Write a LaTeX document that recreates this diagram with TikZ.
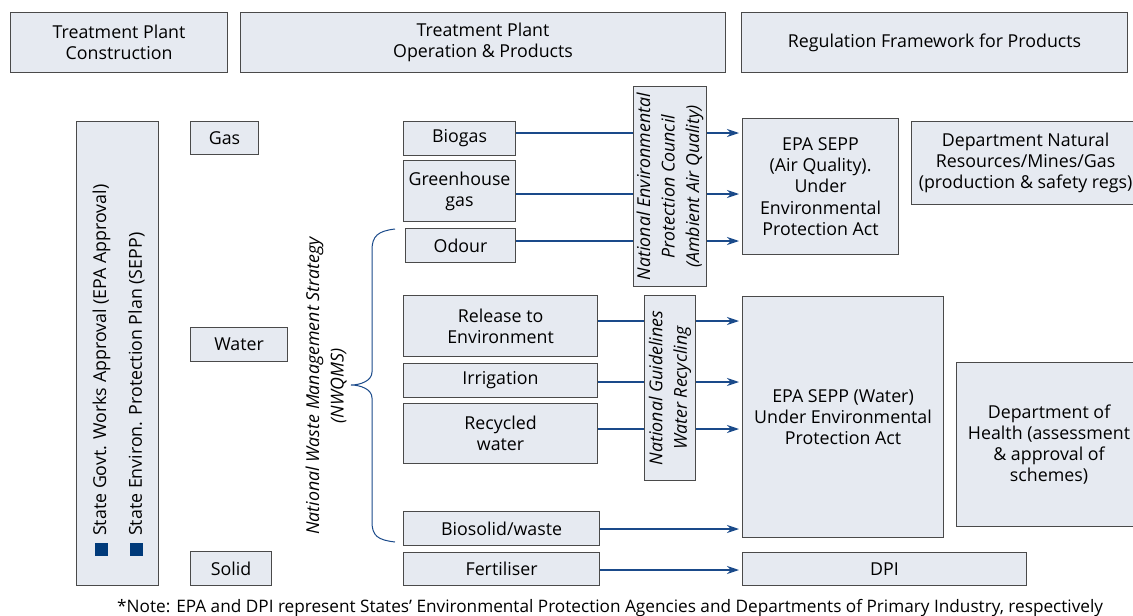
\documentclass[tikz,border=0pt]{standalone}
\usepackage{fontspec}
\setmainfont{Open Sans}
\usetikzlibrary{arrows.meta,calc}
\definecolor{boxfill}{HTML}{E6EAF1}
\definecolor{boxline}{HTML}{4A4A4A}
\definecolor{arrblue}{HTML}{1A4A8A}
\definecolor{sqblue}{HTML}{003A7A}
\newcommand\fsz{\fontsize{17.8}{21.3}\selectfont}
\newcommand\bx[6]{%
  \pgfmathsetmacro\bxw{#4-#2}\pgfmathsetmacro\bxh{#5-#3}%
  \node[box,minimum width=\bxw pt,minimum height=\bxh pt] (#1) at (#2,#3) {#6};}
\begin{document}
\begin{tikzpicture}[x=1pt,y=-1pt,
  box/.style={draw=boxline,fill=boxfill,line width=1.1pt,anchor=north west,align=center,inner sep=2pt,
    font=\fsz},
  rtext/.style={rotate=90,align=center,inner sep=0pt,font=\fontsize{17.8}{24.5}\selectfont\itshape},
  conn/.style={draw=arrblue,line width=1.2pt},
  arr/.style={conn,-{Stealth[length=12pt,width=8pt]},shorten >=3pt}]
\useasboundingbox (0,0) rectangle (1133,616);
% headers
\bx{h1}{10}{12}{227}{72}{Treatment Plant\\Construction}
\bx{h2}{240}{12}{725}{72}{Treatment Plant\\Operation \& Products}
\bx{h3}{741}{12}{1127}{72}{Regulation Framework for Products}
% left column
\bx{left}{76}{121}{158}{585}{}
\fill[sqblue] (95,543) rectangle (108,556);
\fill[sqblue] (130,543) rectangle (143,556);
\node[rtext,font=\fsz,anchor=west] (l1) at (101.5,536) {State Govt. Works Approval (EPA Approval)};
\node[rtext,font=\fsz,anchor=west] (l2) at (136.5,536) {State Environ. Protection Plan (SEPP)};
\bx{gas}{190}{121}{258}{154}{Gas}
\bx{water}{190}{327}{287}{361}{Water}
\bx{solid}{190}{551}{271}{585}{Solid}
% NWQMS
\node[rtext] (nwqms) at (326,386) {National Waste Management Strategy\\(NWQMS)};
\draw[conn,line width=1pt] (395,229) .. controls (378,231) and (372,236) .. (372,250) -- (372,372)
  .. controls (372,381) and (360,385) .. (351,385)
  .. controls (360,385) and (372,389) .. (372,398) -- (372,522)
  .. controls (372,536) and (378,540) .. (395,542);
% products
\bx{biogas}{403}{121}{515}{155}{Biogas}
\bx{ghg}{403}{160}{515}{221}{Greenhouse\\gas}
\bx{odour}{405}{228}{515}{262}{Odour}
\bx{release}{403}{295}{597}{356}{Release to\\Environment}
\bx{irrig}{403}{363}{597}{397}{Irrigation}
\bx{recyc}{403}{403}{597}{463}{Recycled\\water}
\bx{biosolid}{403}{511}{599}{545}{Biosolid/waste}
\bx{fert}{403}{552}{599}{585}{Fertiliser}
% guideline boxes
\bx{nepc}{633}{86}{706}{286}{}
\node[rtext] (nepct) at (nepc.center) {National Environmental\\Protection Council\\(Ambient Air Quality)};
\bx{ngwr}{644}{295}{695}{480}{}
\node[rtext] (ngwrt) at (ngwr.center) {National Guidelines\\Water Recycling};
% regulators
\bx{epaair}{742}{118}{898}{254}{EPA SEPP\\(Air Quality).\\Under\\Environmental\\Protection Act}
\bx{dnr}{911}{121}{1139}{204}{Department Natural\\Resources/Mines/Gas\\(production \& safety regs)}
\bx{epawater}{742}{296}{943}{537}{EPA SEPP (Water)\\Under Environmental\\Protection Act}
\bx{health}{956}{362}{1141}{526}{Department of\\Health (assessment\\\& approval of\\schemes)}
\bx{dpi}{742}{552}{1026}{585}{DPI}
% arrow levels
\coordinate (y1) at (0,133);
\coordinate (y2) at (0,194);
\coordinate (y3) at (0,241);
\coordinate (y4) at (0,321);
\coordinate (y5) at (0,382);
\coordinate (y6) at (0,429);
\coordinate (y7) at (0,529);
\coordinate (y8) at (0,570);
\draw[conn] (biogas.east |- y1) -- (nepc.west |- y1);
\draw[arr] (nepc.east |- y1) -- (epaair.west |- y1);
\draw[conn] (ghg.east |- y2) -- (nepc.west |- y2);
\draw[arr] (nepc.east |- y2) -- (epaair.west |- y2);
\draw[conn] (odour.east |- y3) -- (nepc.west |- y3);
\draw[arr] (nepc.east |- y3) -- (epaair.west |- y3);
\draw[conn] (release.east |- y4) -- (ngwr.west |- y4);
\draw[arr] (ngwr.east |- y4) -- (epawater.west |- y4);
\draw[conn] (irrig.east |- y5) -- (ngwr.west |- y5);
\draw[arr] (ngwr.east |- y5) -- (epawater.west |- y5);
\draw[conn] (recyc.east |- y6) -- (ngwr.west |- y6);
\draw[arr] (ngwr.east |- y6) -- (epawater.west |- y6);
\draw[arr] (biosolid.east |- y7) -- (epawater.west |- y7);
\draw[arr] (fert.east |- y8) -- (dpi.west |- y8);
% note
\node[anchor=base west,inner sep=0pt,font=\fontsize{17.2}{21}\selectfont] (note) at (117,612) {*Note: EPA and DPI represent States' Environmental Protection Agencies and Departments of Primary Industry, respectively};
\end{tikzpicture}
\end{document}
